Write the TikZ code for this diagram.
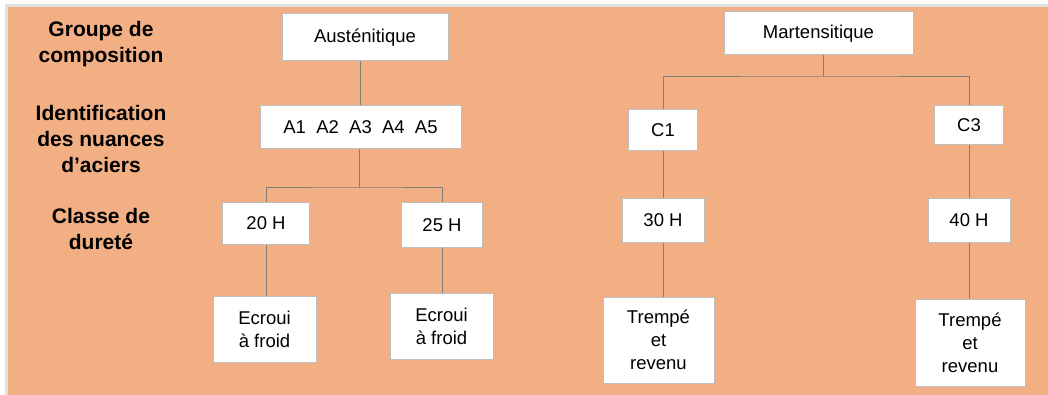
\documentclass[tikz,border=0pt]{standalone}
\usepackage{fontspec}
\setmainfont{Liberation Sans}
\usepackage{tikz}
\usetikzlibrary{positioning,calc}

\definecolor{bgorange}{RGB}{242,175,131}
\definecolor{boxline}{RGB}{190,190,190}
\definecolor{linkgray}{RGB}{128,128,128}

\begin{document}
\begin{tikzpicture}[x=1pt, y=-1pt,
    box/.style={draw=boxline, line width=1pt, fill=white, inner sep=0pt, align=center,
                font=\fontsize{18.5}{23}\selectfont},
    level/.style={align=center, font=\fontsize{21}{26}\selectfont\bfseries},
    link/.style={draw=linkgray, line width=1pt}]
    % page and background
    \useasboundingbox (0,0) rectangle (1048,395);
    \fill[white] (0,0) rectangle (1048,395);
    \fill[black!12] (5,4) rectangle (1048,395);
    \fill[bgorange] (8,7) rectangle (1048,395);

    % level labels
    \node[level] (lgroupe)  at (101,44)  {Groupe de\\composition};
    \node[level] (lnuance)  at (101,139) {Identification\\des nuances\\d’aciers};
    \node[level] (lclasse)  at (101,229) {Classe de\\dureté};

    % austenitic branch
    \node[box, minimum width=166pt, minimum height=47pt] (aus)  at (365,37.5)  {Austénitique};
    \node[box, minimum width=201pt, minimum height=43pt] (nuan) at (360.5,127.5) {A1\ \ A2\ \ A3\ \ A4\ \ A5};
    \node[box, minimum width=87pt,  minimum height=41pt] (h20)  at (266,223.5) {20 H};
    \node[box, minimum width=81pt,  minimum height=44pt] (h25)  at (442,225)   {25 H};
    \node[box, minimum width=103pt, minimum height=66pt] (ecr1) at (264.5,329) {Ecroui\\à froid};
    \node[box, minimum width=103pt, minimum height=66pt] (ecr2) at (441.5,326) {Ecroui\\à froid};

    % martensitic branch
    \node[box, minimum width=189pt, minimum height=43pt] (mart) at (818.5,33.5) {Martensitique};
    \node[box, minimum width=69pt,  minimum height=41pt] (c1)   at (663,130.5)  {C1};
    \node[box, minimum width=69pt,  minimum height=39pt] (c3)   at (969,125.5)  {C3};
    \node[box, minimum width=82pt,  minimum height=43pt] (h30)  at (663,220.5)  {30 H};
    \node[box, minimum width=82pt,  minimum height=43pt] (h40)  at (969,220.5)  {40 H};
    \node[box, minimum width=111pt, minimum height=86pt] (tr1)  at (658.5,340)  {Trempé\\et\\revenu};
    \node[box, minimum width=110pt, minimum height=87pt] (tr2)  at (970,342.5)  {Trempé\\et\\revenu};

    \coordinate (asplit) at (359,188);
    \coordinate (msplit) at (823,77);

    % connectors
    \path[link] (aus.south -| nuan.north) -- (nuan.north)
                (nuan.south -| asplit) -- (asplit)
                (h20.north) |- (asplit) -| (h25.north)
                (h20.south) -- (h20.south |- ecr1.north)
                (h25.south) -- (h25.south |- ecr2.north)
                (mart.south -| msplit) -- (msplit)
                (c1.north) |- (msplit) -| (c3.north)
                (c1.south) -- (h30.north)
                (c3.south) -- (h40.north)
                (h30.south) -- (h30.south |- tr1.north)
                (h40.south) -- (h40.south |- tr2.north);
\end{tikzpicture}
\end{document}
